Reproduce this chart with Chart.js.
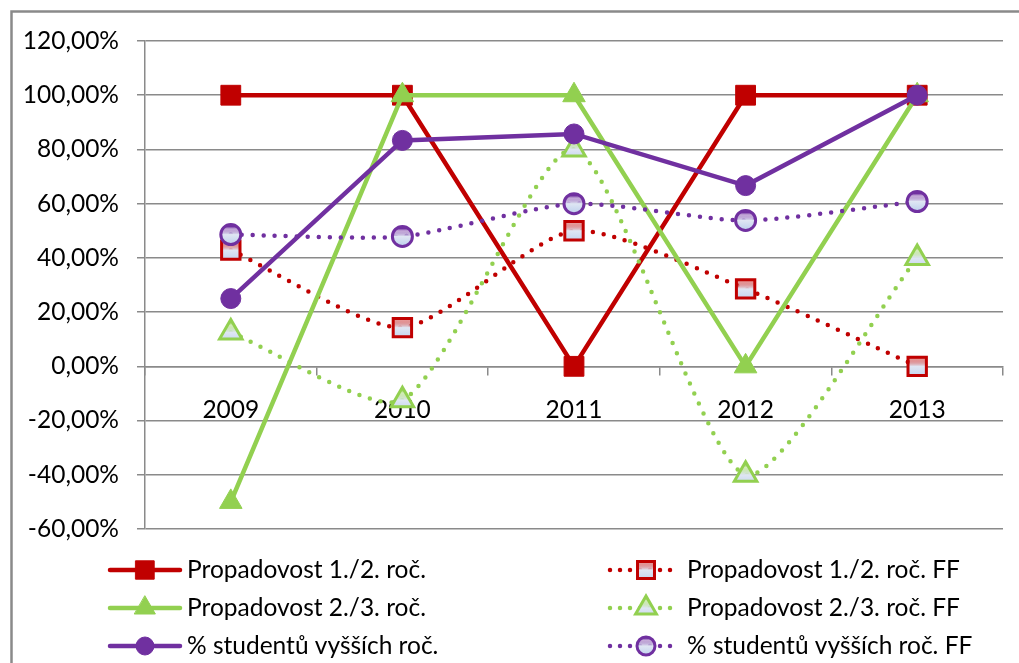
<!DOCTYPE html>
<html lang="cs">
<head>
<meta charset="UTF-8">
<title>Propadovost</title>
<script src="https://cdn.jsdelivr.net/npm/chart.js"></script>
<style>
  html, body { margin: 0; padding: 0; background: #fff; }
  #wrap { width: 1019px; height: 663px; }
</style>
</head>
<body>
<div id="wrap"><canvas id="chart"></canvas></div>
<script>
    // data (percent)
    const years = ['2009', '2010', '2011', '2012', '2013'];
    const prop12 = [100, 100, 0, 100, 100];
    const prop12FF = [42.86, 14.29, 50, 28.57, 0];
    const prop23 = [-50, 100, 100, 0, 100];
    const prop23FF = [12.5, -12.5, 80, -40, 40];
    const vyssi = [25, 83.33, 85.71, 66.67, 100];
    const vyssiFF = [48.6, 47.9, 60, 53.8, 60.8];

    const RED = '#C00000', GREEN = '#92D050', PURPLE = '#7030A0', GRID = '#8a8a8a';
    const FONT = 'Lato, "Open Sans", sans-serif';
    const FSIZE = 24.5;

    function ffFill(ctx, color, y, r) {
        const g = ctx.createLinearGradient(0, y - r, 0, y + r);
        g.addColorStop(0, color);
        g.addColorStop(0.15, color + '66');
        g.addColorStop(0.5, '#dfe6f3');
        g.addColorStop(1, '#c3d4ee');
        return g;
    }

    const series = [
        { label: 'Propadovost 1./2. roč.', data: prop12, color: RED, style: 'rect', r: 14, ff: false },
        { label: 'Propadovost 1./2. roč. FF', data: prop12FF, color: RED, style: 'rect', r: 13, ff: true },
        { label: 'Propadovost 2./3. roč.', data: prop23, color: GREEN, style: 'triangle', r: 13, ff: false },
        { label: 'Propadovost 2./3. roč. FF', data: prop23FF, color: GREEN, style: 'triangle', r: 13, ff: true },
        { label: '% studentů vyšších roč.', data: vyssi, color: PURPLE, style: 'circle', r: 10, ff: false },
        { label: '% studentů vyšších roč. FF', data: vyssiFF, color: PURPLE, style: 'circle', r: 10, ff: true }
    ];

    const datasets = series.map((s, i) => ({
        label: s.label,
        data: s.data,
        order: series.length - i,
        borderColor: s.color,
        borderWidth: 4.5,
        borderDash: s.ff ? [0, 11] : [],
        borderCapStyle: 'round',
        tension: s.ff ? 0.22 : 0,
        pointStyle: s.style,
        pointRadius: s.r,
        pointHoverRadius: s.r,
        pointBorderColor: s.color,
        pointBorderWidth: s.ff ? 3 : 1,
        pointBackgroundColor: s.ff ? (c => {
            if (c.type !== 'data' || typeof c.raw !== 'number') return '#dfe6f3';
            const y = c.chart.scales.y.getPixelForValue(c.raw);
            if (!isFinite(y)) return '#dfe6f3';
            return ffFill(c.chart.ctx, s.color, y, s.r * 0.8);
        }) : s.color
    }));

    const frame = {
        id: 'frame',
        beforeDraw(chart) {
            const ctx = chart.ctx;
            ctx.save();
            ctx.fillStyle = '#fff';
            ctx.fillRect(0, 0, chart.width, chart.height);
            ctx.strokeStyle = GRID;
            ctx.lineWidth = 2.5;
            ctx.strokeRect(11.5, 11.5, chart.width + 20, chart.height + 20);
            ctx.restore();
        }
    };

    // two-column legend like the original
    const legendBox = {
        id: 'legendBox',
        afterDraw(chart) {
            const ctx = chart.ctx;
            const cols = [{ x0: 110, x1: 180, mx: 145, tx: 187 }, { x0: 610, x1: 678, mx: 646, tx: 687 }];
            const rows = [570, 608, 646];
            series.forEach((s, i) => {
                const c = cols[i % 2], y = rows[Math.floor(i / 2)];
                ctx.save();
                ctx.strokeStyle = s.color;
                ctx.lineWidth = 4.5;
                ctx.lineCap = 'round';
                ctx.setLineDash(s.ff ? [0, 10] : []);
                ctx.beginPath();
                ctx.moveTo(c.x0, y);
                ctx.lineTo(c.x1, y);
                ctx.stroke();
                ctx.setLineDash([]);
                ctx.fillStyle = s.ff ? ffFill(ctx, s.color, y, s.r * 0.8) : s.color;
                ctx.strokeStyle = s.color;
                ctx.lineWidth = s.ff ? 3 : 1;
                Chart.helpers.drawPoint(ctx, {
                    pointStyle: s.style, radius: s.r - 1, rotation: 0, borderWidth: s.ff ? 3 : 1
                }, c.mx, y);
                ctx.fillStyle = '#000';
                ctx.font = FSIZE + 'px ' + FONT;
                ctx.textBaseline = 'middle';
                ctx.fillText(s.label, c.tx, y);
                ctx.restore();
            });
        }
    };

    new Chart(document.getElementById('chart'), {
        type: 'line',
        data: { labels: years, datasets },
        options: {
            responsive: true,
            maintainAspectRatio: false,
            animation: false,
            layout: { padding: { left: 0, top: 41, right: 10, bottom: 134 } },
            plugins: {
                legend: { display: false },
                tooltip: { enabled: false }
            },
            scales: {
                x: {
                    position: { y: 0 },
                    offset: true,
                    grid: { drawOnChartArea: false, offset: true, color: GRID, lineWidth: 1.5, tickLength: 8 },
                    border: { color: GRID, width: 1.5 },
                    ticks: { color: '#000', padding: 21, font: { family: FONT, size: FSIZE } }
                },
                y: {
                    min: -60,
                    max: 120,
                    afterFit(scale) { scale.width = 145; },
                    grid: { color: GRID, lineWidth: 1.5, tickLength: 8 },
                    border: { color: GRID, width: 1.5 },
                    ticks: {
                        stepSize: 20,
                        color: '#000',
                        padding: 18,
                        font: { family: FONT, size: FSIZE },
                        callback: v => v.toFixed(2).replace('.', ',') + '%'
                    }
                }
            }
        },
        plugins: [frame, legendBox]
    });
</script>
</body>
</html>
